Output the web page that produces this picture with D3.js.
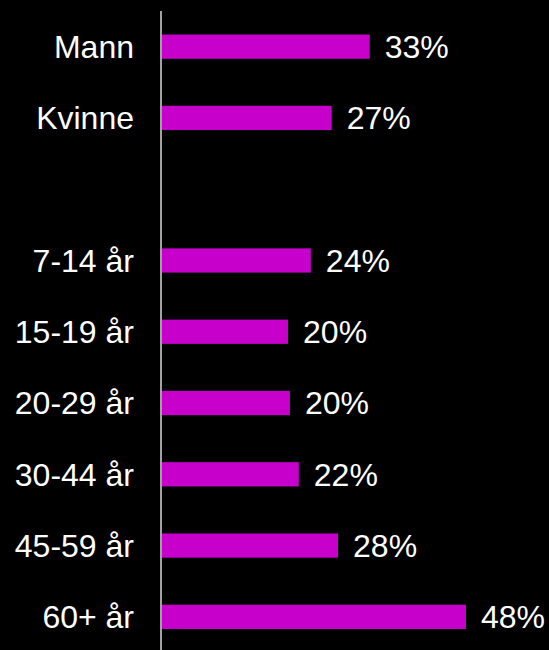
<!DOCTYPE html>
<html>
<head>
<meta charset="utf-8">
<script src="https://cdn.jsdelivr.net/npm/d3@7"></script>
<style>
  html, body { margin: 0; padding: 0; background: #000; }
  svg { display: block; }
</style>
</head>
<body>
<svg id="the-svg"></svg>
<script>
var categories = ["Mann", "Kvinne", "", "7-14 år", "15-19 år", "20-29 år", "30-44 år", "45-59 år", "60+ år"];
var values = [32.8, 26.8, null, 23.5, 19.9, 20.2, 21.6, 27.8, 48.0];
var valueLabels = ["33%", "27%", "", "24%", "20%", "20%", "22%", "28%", "48%"];

var width = 549, height = 650;

var theSvg = d3.select("#the-svg")
    .attr("width", width)
    .attr("height", height);

theSvg.append("rect")
    .attr("width", width)
    .attr("height", height)
    .attr("fill", "#000");

var y = d3.scaleBand()
    .domain(d3.range(categories.length))
    .range([11, 652.5])
    .paddingInner(0.66)
    .paddingOuter(0.33);

var x = d3.scaleLinear()
    .domain([0, 48])
    .range([162, 466]);

var rows = categories.map(function(c, i) {
    return { cat: c, value: values[i], label: valueLabels[i], i: i };
});

// bars
theSvg.selectAll(".bar")
    .data(rows.filter(function(d) { return d.value != null; }))
    .enter().append("rect")
        .attr("class", "bar")
        .attr("x", x(0))
        .attr("y", function(d) { return y(d.i); })
        .attr("width", function(d) { return x(d.value) - x(0); })
        .attr("height", y.bandwidth())
        .attr("fill", "#c800cc");

// category labels
theSvg.selectAll(".cat")
    .data(rows)
    .enter().append("text")
        .attr("class", "cat")
        .attr("x", 134)
        .attr("y", function(d) { return y(d.i) + y.bandwidth() / 2; })
        .attr("dy", "0.35em")
        .attr("text-anchor", "end")
        .attr("fill", "#fff")
        .style("font-family", "'Liberation Sans', Arial, sans-serif")
        .style("font-size", "32px")
        .text(function(d) { return d.cat; });

// value labels
theSvg.selectAll(".val")
    .data(rows.filter(function(d) { return d.value != null; }))
    .enter().append("text")
        .attr("class", "val")
        .attr("x", function(d) { return x(d.value) + 15; })
        .attr("y", function(d) { return y(d.i) + y.bandwidth() / 2; })
        .attr("dy", "0.35em")
        .attr("fill", "#fff")
        .style("font-family", "'Liberation Sans', Arial, sans-serif")
        .style("font-size", "32px")
        .text(function(d) { return d.label; });

// vertical axis line
theSvg.append("line")
    .attr("x1", 161)
    .attr("x2", 161)
    .attr("y1", 11)
    .attr("y2", height)
    .attr("stroke", "#d9d9d9")
    .attr("stroke-width", 1.5);
</script>
</body>
</html>
